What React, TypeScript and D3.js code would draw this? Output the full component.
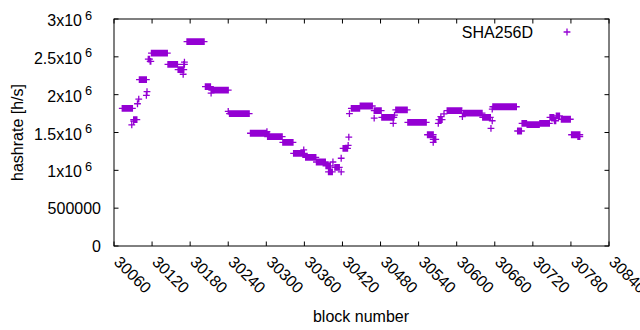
import React from "react";
import * as d3 from "d3";

// Runs of consecutive blocks sharing the same hashrate
const runStart = [30073, 30088, 30091, 30091, 30097, 30099, 30100, 30111, 30112, 30114, 30117, 30119, 30145, 30161, 30169, 30170, 30171, 30175, 30204, 30213, 30214, 30240, 30242, 30275, 30301, 30302, 30326, 30343, 30359, 30362, 30379, 30394, 30398, 30405, 30408, 30418, 30418, 30421, 30429, 30430, 30431, 30434, 30448, 30470, 30470, 30482, 30500, 30502, 30504, 30523, 30554, 30563, 30563, 30571, 30572, 30575, 30580, 30585, 30609, 30611, 30641, 30654, 30656, 30656, 30657, 30696, 30703, 30711, 30731, 30747, 30754, 30757, 30765, 30781, 30791];
const runEnd = [30089, 30088, 30091, 30096, 30097, 30099, 30111, 30111, 30112, 30116, 30118, 30144, 30160, 30170, 30169, 30171, 30171, 30202, 30212, 30213, 30240, 30240, 30273, 30300, 30301, 30325, 30342, 30360, 30359, 30378, 30393, 30401, 30404, 30405, 30415, 30418, 30418, 30428, 30429, 30430, 30431, 30447, 30467, 30481, 30470, 30501, 30500, 30502, 30522, 30552, 30563, 30567, 30563, 30571, 30577, 30575, 30580, 30608, 30609, 30640, 30653, 30654, 30656, 30656, 30694, 30702, 30710, 30730, 30746, 30753, 30756, 30762, 30779, 30794, 30794];
const runValue = [1.82e6, 1.6e6, 1.65e6, 1.67e6, 1.88e6, 1.94e6, 2.2e6, 1.99e6, 2.04e6, 2.47e6, 2.44e6, 2.55e6, 2.4e6, 2.33e6, 2.27e6, 2.4e6, 2.43e6, 2.7e6, 2.105e6, 2.02e6, 2.06e6, 1.78e6, 1.75e6, 1.49e6, 1.51e6, 1.445e6, 1.37e6, 1.225e6, 1.27e6, 1.17e6, 1.11e6, 1.06e6, 0.98e6, 1.11e6, 1.04e6, 0.98e6, 1.16e6, 1.29e6, 1.33e6, 1.44e6, 1.75e6, 1.82e6, 1.85e6, 1.79e6, 1.69e6, 1.7e6, 1.62e6, 1.73e6, 1.8e6, 1.635e6, 1.47e6, 1.41e6, 1.37e6, 1.62e6, 1.67e6, 1.71e6, 1.745e6, 1.79e6, 1.71e6, 1.755e6, 1.7e6, 1.555e6, 1.655e6, 1.81e6, 1.84e6, 1.52e6, 1.62e6, 1.605e6, 1.62e6, 1.7e6, 1.655e6, 1.72e6, 1.675e6, 1.47e6, 1.445e6];

const xTicks = [30060, 30120, 30180, 30240, 30300, 30360, 30420, 30480, 30540, 30600, 30660, 30720, 30780, 30840];
const yTickValues = [0, 500000, 1000000, 1500000, 2000000, 2500000, 3000000];
const yTickMain = ["0", "500000", "1x10", "1.5x10", "2x10", "2.5x10", "3x10"];
const yTickSup = ["", "", "6", "6", "6", "6", "6"];
const seriesName = "SHA256D";
const xTitle = "block number";
const yTitle = "hashrate [h/s]";

const COLOR = "#9400d3";
const FONT = "'Liberation Sans', Arial, sans-serif";

export default function App() {
  const left = 114, right = 609, top = 19, bottom = 246;
  const x = d3.scaleLinear().domain([30060, 30840]).range([left, right]);
  const y = d3.scaleLinear().domain([0, 3000000]).range([bottom, top]);

  const points: { b: number; v: number }[] = [];
  runStart.forEach((s, i) => {
    for (let b = s; b <= runEnd[i]; b++) points.push({ b, v: runValue[i] });
  });

  const h = 3.4;
  const plus = (cx: number, cy: number) =>
    `M${cx - h},${cy}H${cx + h}M${cx},${cy - h}V${cy + h}`;
  const pathD = points.map((p) => plus(x(p.b), y(p.v))).join("");

  const tl = 4.5;

  return (
    <svg width={640} height={330} style={{ position: "absolute", left: 0, top: 0, background: "#fff" }} fontFamily={FONT}>
      <rect x={0} y={0} width={640} height={330} fill="#fff" />
      {/* ticks */}
      <g stroke="#000" strokeWidth={1}>
        {xTicks.map((t) => (
          <g key={"xt" + t}>
            <line x1={x(t)} x2={x(t)} y1={bottom} y2={bottom - tl} />
            <line x1={x(t)} x2={x(t)} y1={top} y2={top + tl} />
          </g>
        ))}
        {yTickValues.map((t) => (
          <g key={"yt" + t}>
            <line x1={left} x2={left + tl} y1={y(t)} y2={y(t)} />
            <line x1={right} x2={right - tl} y1={y(t)} y2={y(t)} />
          </g>
        ))}
      </g>
      {/* data */}
      <path d={pathD} stroke={COLOR} strokeWidth={1.3} fill="none" />
      {/* border */}
      <rect x={left} y={top} width={right - left} height={bottom - top} fill="none" stroke="#000" strokeWidth={1} />
      {/* y tick labels */}
      {yTickValues.map((t, i) =>
        yTickSup[i] ? (
          <g key={"yl" + t}>
            <text x={82} y={y(t) + 1.5} textAnchor="end" dominantBaseline="central" fontSize={16}>{yTickMain[i]}</text>
            <text x={85} y={y(t) - 4} textAnchor="start" dominantBaseline="central" fontSize={12.8}>{yTickSup[i]}</text>
          </g>
        ) : (
          <text key={"yl" + t} x={101} y={y(t)} textAnchor="end" dominantBaseline="central" fontSize={16}>{yTickMain[i]}</text>
        )
      )}
      {/* x tick labels */}
      {xTicks.map((t) => (
        <text key={"xl" + t} x={x(t) + 3} y={259} transform={`rotate(45, ${x(t) + 3}, 259)`} textAnchor="start" dominantBaseline="central" fontSize={16}>
          {t}
        </text>
      ))}
      {/* axis titles */}
      <text x={361} y={316} textAnchor="middle" dominantBaseline="central" fontSize={16}>{xTitle}</text>
      <text x={17} y={132.5} transform="rotate(-90, 17, 132.5)" textAnchor="middle" dominantBaseline="central" fontSize={16}>{yTitle}</text>
      {/* legend */}
      <text x={533} y={32} textAnchor="end" dominantBaseline="central" fontSize={16}>{seriesName}</text>
      <path d={plus(567, 32)} stroke={COLOR} strokeWidth={1.3} fill="none" />
    </svg>
  );
}
